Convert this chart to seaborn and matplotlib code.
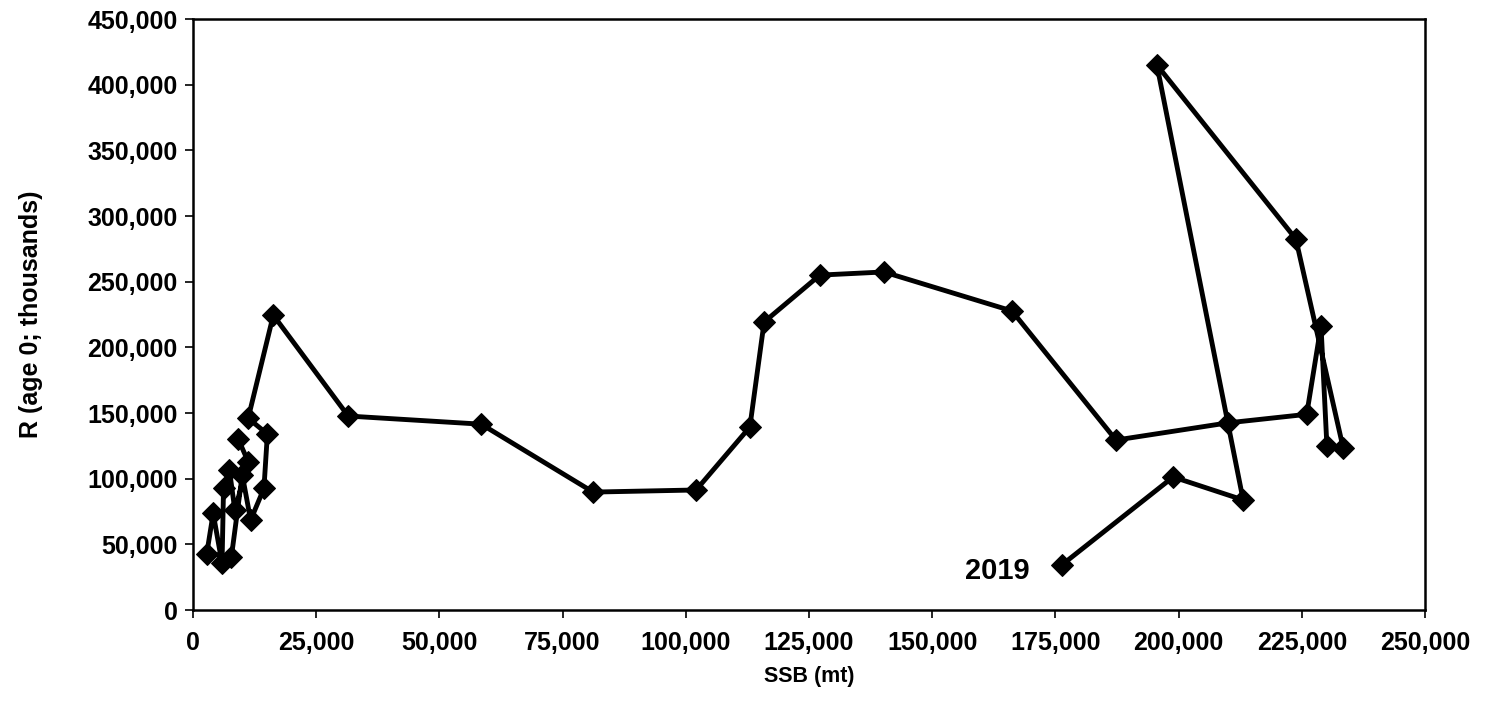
import matplotlib
matplotlib.use("Agg")
import matplotlib.pyplot as plt
import matplotlib.ticker as mticker
import seaborn as sns
import pandas as pd

# SSB (mt) and R (age 0; thousands), in time order
ssb = [9200, 11200, 8500, 7400, 6200, 5900, 4100, 2800, 7800, 10000, 11700,
       14400, 15100, 11200, 16300, 31500, 58500, 81200, 102100, 113000,
       115900, 127200, 140200, 166200, 187300, 210000, 226000, 228900,
       230100, 233400, 223800, 195600, 213100, 198900, 176300]
rec = [130000, 113000, 76000, 106600, 92600, 35500, 73600, 43000, 40600,
       103000, 68500, 92600, 134000, 146000, 224500, 147700, 141500, 89800,
       91400, 139300, 219300, 255000, 257400, 227700, 129400, 142500,
       149000, 216500, 124900, 123400, 282500, 415000, 83800, 101300, 34300]
last_label = "2019"

df = pd.DataFrame({"SSB": ssb, "R": rec, "order": range(len(ssb))})

sns.set_style("white")
plt.rcParams["font.family"] = ["Liberation Sans", "DejaVu Sans"]
plt.rcParams["font.weight"] = "bold"
plt.rcParams["text.color"] = "black"
plt.rcParams["axes.labelcolor"] = "black"

fig = plt.figure(figsize=(14.89, 7.17), dpi=100)
ax = fig.add_axes([0.1296, 0.1492, 0.957 - 0.1296, 0.9735 - 0.1492])

sns.lineplot(data=df, x="SSB", y="R", sort=False, estimator=None,
             color="black", linewidth=3.5, marker="D", markersize=11.5,
             markeredgecolor="black", markerfacecolor="black", ax=ax)

ax.set_xlim(0, 250000)
ax.set_ylim(0, 450000)
ax.xaxis.set_major_locator(mticker.MultipleLocator(25000))
ax.yaxis.set_major_locator(mticker.MultipleLocator(50000))
fmt = mticker.FuncFormatter(lambda v, p: f"{int(v):,}")
ax.xaxis.set_major_formatter(fmt)
ax.yaxis.set_major_formatter(fmt)

ax.tick_params(axis="both", direction="out", length=6, width=1.2,
               colors="black", labelsize=18)
ax.tick_params(axis="x", bottom=True, pad=9)
ax.tick_params(axis="y", left=True, pad=5)
for lab in ax.get_xticklabels() + ax.get_yticklabels():
    lab.set_fontweight("bold")

for s in ax.spines.values():
    s.set_visible(True)
    s.set_color("black")
    s.set_linewidth(1.8)

ax.set_xlabel("SSB (mt)", fontsize=15.5, fontweight="bold", labelpad=8,
              color="black")
ax.set_ylabel("R (age 0; thousands)", fontsize=18, fontweight="bold",
              labelpad=32, color="black")

ax.annotate(last_label, xy=(ssb[-1], rec[-1]), xytext=(-23, -4),
            textcoords="offset points", ha="right", va="center",
            fontsize=21, fontweight="bold", color="black")

fig.savefig("out.png", dpi=100)
